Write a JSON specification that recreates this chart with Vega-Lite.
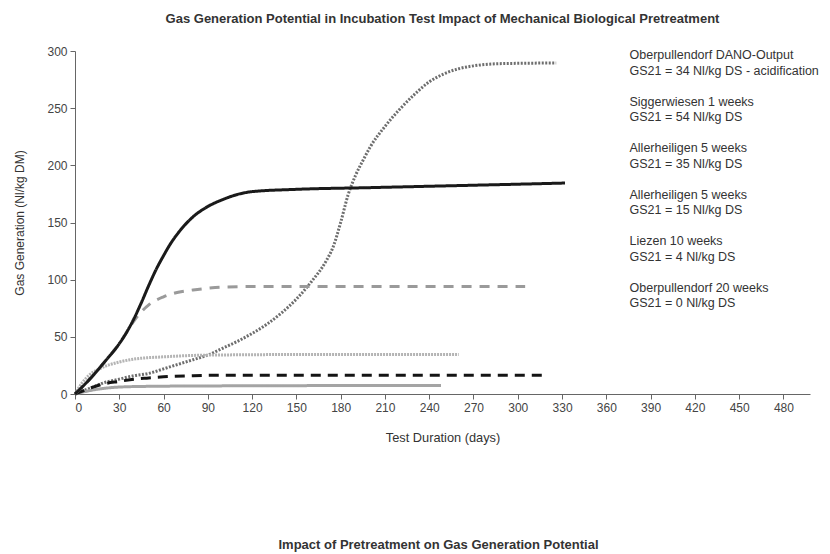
{
  "$schema": "https://vega.github.io/schema/vega-lite/v6.json",
  "autosize": {"type": "none"},
  "width": 735,
  "height": 343,
  "padding": {"left": 75, "top": 51, "right": 20, "bottom": 160},
  "background": "white",
  "config": {
    "font": "Liberation Sans",
    "view": {"stroke": null},
    "style": {"guide-label": {"lineHeight": 15.5}},
    "axis": {"grid": false, "domainColor": "#666", "tickColor": "#666", "labelColor": "#444", "titleColor": "#333", "labelFont": "Liberation Sans", "titleFont": "Liberation Sans"}
  },
  "title": {"text": "Gas Generation Potential in Incubation Test Impact of Mechanical Biological Pretreatment", "fontSize": 13, "fontWeight": "bold", "color": "#333", "anchor": "middle", "offset": 19, "font": "Liberation Sans"},
  "datasets": {
    "curves": [
      {"series": "DANO", "day": 0, "gas": 0}, {"series": "DANO", "day": 10, "gas": 5}, {"series": "DANO", "day": 20, "gas": 10}, {"series": "DANO", "day": 30, "gas": 13}, {"series": "DANO", "day": 40, "gas": 16}, {"series": "DANO", "day": 50, "gas": 18}, {"series": "DANO", "day": 60, "gas": 22}, {"series": "DANO", "day": 70, "gas": 26}, {"series": "DANO", "day": 80, "gas": 30}, {"series": "DANO", "day": 90, "gas": 34}, {"series": "DANO", "day": 100, "gas": 40}, {"series": "DANO", "day": 110, "gas": 46}, {"series": "DANO", "day": 120, "gas": 53}, {"series": "DANO", "day": 130, "gas": 61}, {"series": "DANO", "day": 140, "gas": 71}, {"series": "DANO", "day": 150, "gas": 83}, {"series": "DANO", "day": 160, "gas": 98}, {"series": "DANO", "day": 170, "gas": 116}, {"series": "DANO", "day": 175, "gas": 129}, {"series": "DANO", "day": 180, "gas": 150}, {"series": "DANO", "day": 185, "gas": 174}, {"series": "DANO", "day": 190, "gas": 191}, {"series": "DANO", "day": 195, "gas": 204}, {"series": "DANO", "day": 200, "gas": 216}, {"series": "DANO", "day": 210, "gas": 234}, {"series": "DANO", "day": 220, "gas": 249}, {"series": "DANO", "day": 230, "gas": 262}, {"series": "DANO", "day": 240, "gas": 273}, {"series": "DANO", "day": 250, "gas": 280}, {"series": "DANO", "day": 260, "gas": 284.5}, {"series": "DANO", "day": 270, "gas": 287}, {"series": "DANO", "day": 290, "gas": 289}, {"series": "DANO", "day": 326, "gas": 289.5},
      {"series": "O20", "day": 0, "gas": 0}, {"series": "O20", "day": 10, "gas": 3}, {"series": "O20", "day": 20, "gas": 5}, {"series": "O20", "day": 40, "gas": 6.5}, {"series": "O20", "day": 80, "gas": 7}, {"series": "O20", "day": 248, "gas": 7.5},
      {"series": "A15", "day": 0, "gas": 0}, {"series": "A15", "day": 5, "gas": 10}, {"series": "A15", "day": 10, "gas": 17}, {"series": "A15", "day": 15, "gas": 21}, {"series": "A15", "day": 20, "gas": 24}, {"series": "A15", "day": 30, "gas": 28}, {"series": "A15", "day": 40, "gas": 30.5}, {"series": "A15", "day": 60, "gas": 32.5}, {"series": "A15", "day": 90, "gas": 34}, {"series": "A15", "day": 150, "gas": 34.5}, {"series": "A15", "day": 260, "gas": 34.5},
      {"series": "L10", "day": 0, "gas": 0}, {"series": "L10", "day": 10, "gas": 5}, {"series": "L10", "day": 20, "gas": 9}, {"series": "L10", "day": 30, "gas": 11}, {"series": "L10", "day": 40, "gas": 13}, {"series": "L10", "day": 50, "gas": 14}, {"series": "L10", "day": 60, "gas": 15}, {"series": "L10", "day": 80, "gas": 16}, {"series": "L10", "day": 100, "gas": 16.5}, {"series": "L10", "day": 319, "gas": 16.5},
      {"series": "A35", "day": 0, "gas": 0}, {"series": "A35", "day": 10, "gas": 13}, {"series": "A35", "day": 20, "gas": 28}, {"series": "A35", "day": 30, "gas": 44}, {"series": "A35", "day": 40, "gas": 64}, {"series": "A35", "day": 45, "gas": 72}, {"series": "A35", "day": 50, "gas": 78}, {"series": "A35", "day": 60, "gas": 85}, {"series": "A35", "day": 70, "gas": 89}, {"series": "A35", "day": 80, "gas": 91}, {"series": "A35", "day": 90, "gas": 92.5}, {"series": "A35", "day": 100, "gas": 93.5}, {"series": "A35", "day": 120, "gas": 94}, {"series": "A35", "day": 305, "gas": 94},
      {"series": "S1", "day": 0, "gas": 0}, {"series": "S1", "day": 10, "gas": 13}, {"series": "S1", "day": 20, "gas": 28}, {"series": "S1", "day": 30, "gas": 44}, {"series": "S1", "day": 35, "gas": 54}, {"series": "S1", "day": 40, "gas": 66}, {"series": "S1", "day": 45, "gas": 80}, {"series": "S1", "day": 50, "gas": 95}, {"series": "S1", "day": 55, "gas": 109}, {"series": "S1", "day": 60, "gas": 121}, {"series": "S1", "day": 65, "gas": 132}, {"series": "S1", "day": 70, "gas": 141}, {"series": "S1", "day": 80, "gas": 155}, {"series": "S1", "day": 90, "gas": 164}, {"series": "S1", "day": 100, "gas": 170}, {"series": "S1", "day": 110, "gas": 174.5}, {"series": "S1", "day": 120, "gas": 177}, {"series": "S1", "day": 150, "gas": 179}, {"series": "S1", "day": 200, "gas": 180.5}, {"series": "S1", "day": 250, "gas": 182}, {"series": "S1", "day": 300, "gas": 183.5}, {"series": "S1", "day": 332, "gas": 184.5}
    ]
  },
  "resolve": {"axis": {"x": "independent"}},
  "layer": [
    {
      "data": {"name": "curves"},
      "mark": {"type": "line", "strokeWidth": 3, "interpolate": "monotone", "strokeCap": "butt"},
      "encoding": {
        "x": {"field": "day", "type": "quantitative", "scale": {"domain": [0, 498], "nice": false}, "axis": {"values": [0, 30, 60, 90, 120, 150, 180, 210, 240, 270, 300, 330, 360, 390, 420, 450, 480], "title": "Test Duration (days)", "labelFontSize": 12, "titleFontSize": 12.8, "titleFontWeight": "normal", "tickSize": 5, "labelPadding": 3, "titlePadding": 18}},
        "y": {"field": "gas", "type": "quantitative", "scale": {"domain": [0, 300], "nice": false}, "axis": {"values": [0, 50, 100, 150, 200, 250, 300], "title": "Gas Generation (Nl/kg DM)", "labelFontSize": 12, "titleFontSize": 12, "titleFontWeight": "normal", "tickSize": 5, "labelPadding": 3, "titlePadding": 20}},
        "color": {"field": "series", "type": "nominal", "scale": {"domain": ["DANO", "S1", "A35", "A15", "L10", "O20"], "range": ["#6e6e6e", "#1a1a1a", "#9a9a9a", "#b4b4b4", "#141414", "#a4a4a4"]},
          "legend": {"orient": "none", "legendX": 542, "legendY": -2, "title": null, "symbolOpacity": 0, "symbolStrokeWidth": 0, "symbolSize": 0, "labelOffset": 0, "labelLimit": 0, "labelFontSize": 12.5, "labelColor": "#333", "rowPadding": 17.5,
            "labelExpr": "datum.label == 'DANO' ? ['Oberpullendorf DANO-Output', 'GS21 = 34 Nl/kg DS - acidification'] : datum.label == 'S1' ? ['Siggerwiesen 1 weeks', 'GS21 = 54 Nl/kg DS'] : datum.label == 'A35' ? ['Allerheiligen 5 weeks', 'GS21 = 35 Nl/kg DS'] : datum.label == 'A15' ? ['Allerheiligen 5 weeks', 'GS21 = 15 Nl/kg DS'] : datum.label == 'L10' ? ['Liezen 10 weeks', 'GS21 = 4 Nl/kg DS'] : ['Oberpullendorf 20 weeks', 'GS21 = 0 Nl/kg DS']"}},
        "strokeDash": {"field": "series", "type": "nominal", "scale": {"domain": ["DANO", "S1", "A35", "A15", "L10", "O20"], "range": [[2, 1.5], [1, 0], [10, 8], [2, 1], [10, 7], [1, 0]]}, "legend": null},
        "order": {"field": "day", "type": "quantitative"}
      }
    },
    {
      "mark": {"type": "rule", "opacity": 0},
      "encoding": {
        "x": {"datum": 0, "type": "quantitative", "scale": {"domain": [0, 498], "nice": false}, "axis": {"orient": "bottom", "domain": false, "ticks": false, "labels": false, "title": "Impact of Pretreatment on Gas Generation Potential", "titleFontSize": 13, "titleFontWeight": "bold", "titleColor": "#333", "titleX": 363, "titleY": 150, "titleBaseline": "middle", "titleAlign": "center"}}
      }
    }
  ]
}
